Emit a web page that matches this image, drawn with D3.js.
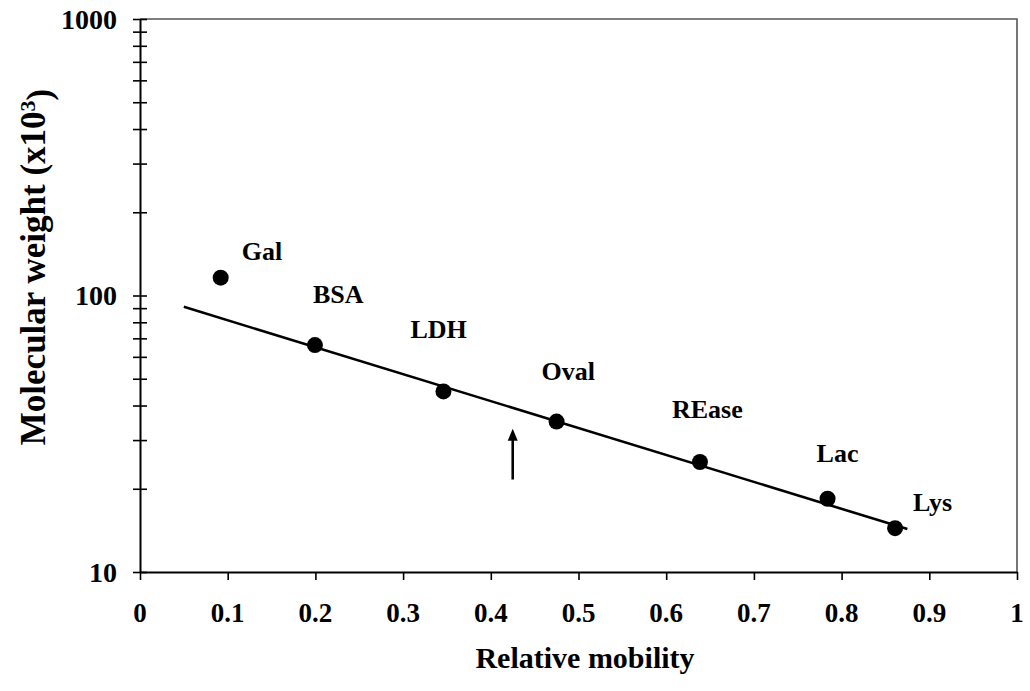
<!DOCTYPE html>
<html>
<head>
<meta charset="utf-8">
<script src="https://cdn.jsdelivr.net/npm/d3@7/dist/d3.min.js"></script>
<style>
  html, body { margin: 0; padding: 0; background: #fff; }
  svg { display: block; }
  text { font-family: "Liberation Serif", "Times New Roman", serif; font-weight: bold; fill: #000; }
</style>
</head>
<body>
<svg id="chart" width="1030" height="691"></svg>
<script>
// Marker proteins: relative mobility on the gel vs. molecular weight (kDa)
const proteins  = ["Gal", "BSA", "LDH", "Oval", "REase", "Lac", "Lys"];
const mobility  = [0.092, 0.1995, 0.346, 0.475, 0.6385, 0.784, 0.861];
const molWeight = [116, 66.2, 45, 35, 25, 18.4, 14.4];

// Standard-curve trend line (end points)
const fitMobility = [0.05, 0.875];
const fitWeight   = [91, 14.3];

// Arrow marking the sample band
const sampleMobility = 0.425;
const sampleArrow    = [21.6, 33];   // from, to (kDa)

// Axis ticks
const xTicks      = [0, 0.1, 0.2, 0.3, 0.4, 0.5, 0.6, 0.7, 0.8, 0.9, 1];
const xTickLabels = ["0", "0.1", "0.2", "0.3", "0.4", "0.5", "0.6", "0.7", "0.8", "0.9", "1"];
const yMajor      = [10, 100, 1000];
const yTickLabels = ["10", "100", "1000"];

// Label placement relative to each marker (px)
const labelNudge = {
  Gal: [21, -18], BSA: [-2, -42], LDH: [-33, -53], Oval: [-15, -42],
  REase: [-28, -44], Lac: [-11, -37], Lys: [18, -17]
};

const svg = d3.select("#chart");
const plot = { left: 140, right: 1017, top: 19, bottom: 572 };

const x = d3.scaleLinear().domain([0, 1]).range([plot.left, plot.right]);
const y = d3.scaleLog().domain([10, 1000]).range([plot.bottom, plot.top]);

// Frame (top and right edges)
svg.append("path")
  .attr("d", `M${plot.left},${plot.top}H${plot.right}V${plot.bottom}`)
  .attr("fill", "none").attr("stroke", "#555").attr("stroke-width", 1.6);

// Minor + major log ticks on the y axis
const yAllTicks = [];
for (let d = 10; d < 1000; d *= 10) for (let m = 1; m < 10; m++) yAllTicks.push(d * m);
yAllTicks.push(1000);

const yAxis = svg.append("g")
  .attr("transform", `translate(${plot.left},0)`)
  .call(d3.axisLeft(y).tickValues(yAllTicks).tickSize(7).tickSizeOuter(0).tickFormat(() => ""));
yAxis.select(".domain").attr("stroke", "#000").attr("stroke-width", 2);
yAxis.selectAll(".tick line").attr("x1", 7).attr("stroke", "#000").attr("stroke-width", 1.6);

// y tick labels
svg.append("g").selectAll("text").data(yMajor).join("text")
  .attr("x", plot.left - 23)
  .attr("y", d => y(d))
  .attr("dy", "0.34em")
  .attr("text-anchor", "end")
  .style("font-size", "28px")
  .text((d, i) => yTickLabels[i]);

// x axis
const xAxis = svg.append("g")
  .attr("transform", `translate(0,${plot.bottom})`)
  .call(d3.axisBottom(x).tickValues(xTicks).tickSize(8).tickSizeOuter(0).tickFormat(() => ""));
xAxis.select(".domain").attr("stroke", "#000").attr("stroke-width", 2);
xAxis.selectAll(".tick line").attr("stroke", "#000").attr("stroke-width", 1.6);

svg.append("g").selectAll("text").data(xTicks).join("text")
  .attr("x", d => x(d))
  .attr("y", 622)
  .attr("text-anchor", "middle")
  .style("font-size", "27px")
  .text((d, i) => xTickLabels[i]);

// Axis titles
svg.append("text")
  .attr("x", 585).attr("y", 668)
  .attr("text-anchor", "middle")
  .style("font-size", "30px")
  .text("Relative mobility");

const yTitle = svg.append("text")
  .attr("transform", "translate(45,267) rotate(-90)")
  .attr("text-anchor", "middle")
  .style("font-size", "35px");
yTitle.append("tspan").text("Molecular weight (x10");
yTitle.append("tspan").attr("dy", "-0.45em").style("font-size", "22px").text("3");
yTitle.append("tspan").attr("dy", "0.45em").text(")");

// Trend line
const line = d3.line().x(d => x(d[0])).y(d => y(d[1]));
svg.append("path")
  .datum(fitMobility.map((m, i) => [m, fitWeight[i]]))
  .attr("d", line)
  .attr("fill", "none").attr("stroke", "#000").attr("stroke-width", 2.6);

// Markers
const pts = proteins.map((p, i) => ({ name: p, m: mobility[i], w: molWeight[i] }));
svg.append("g").selectAll("circle").data(pts).join("circle")
  .attr("cx", d => x(d.m)).attr("cy", d => y(d.w)).attr("r", 8)
  .attr("fill", "#000");

// Marker names
svg.append("g").selectAll("text").data(pts).join("text")
  .attr("x", d => x(d.m) + labelNudge[d.name][0])
  .attr("y", d => y(d.w) + labelNudge[d.name][1])
  .style("font-size", "26px")
  .text(d => d.name);

// Sample arrow
const ax = x(sampleMobility), y0 = y(sampleArrow[0]), y1 = y(sampleArrow[1]);
svg.append("line")
  .attr("x1", ax).attr("x2", ax).attr("y1", y0).attr("y2", y1 + 10)
  .attr("stroke", "#000").attr("stroke-width", 2.6);
svg.append("path")
  .attr("d", `M${ax},${y1}L${ax - 5},${y1 + 12}L${ax + 5},${y1 + 12}Z`)
  .attr("fill", "#000");
</script>
</body>
</html>
